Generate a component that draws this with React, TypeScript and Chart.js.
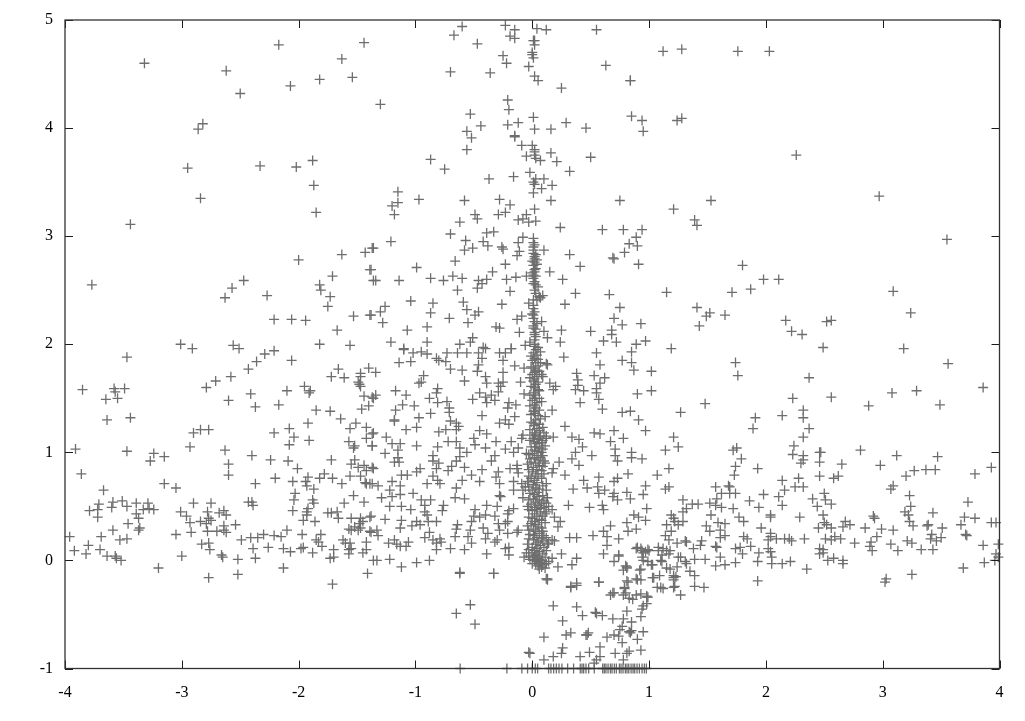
import React, { useEffect, useRef } from "react";
import { Chart, registerables } from "chart.js";

Chart.register(...registerables);

const xTicks = [-4, -3, -2, -1, 0, 1, 2, 3, 4];
const yTicks = [-1, 0, 1, 2, 3, 4, 5];

const farLeftHigh = [[-3.32,4.60],[-2.62,4.53],[-2.50,4.32],[-2.17,4.77],[-2.07,4.39],[-1.82,4.45],[-1.63,4.64],[-1.54,4.47],[-1.44,4.79],[-2.82,4.04],[-2.86,3.99],[-2.95,3.63],[-2.33,3.65],[-2.02,3.64],[-1.88,3.70],[-1.87,3.47],[-2.84,3.35],[-1.85,3.22],[-3.44,3.11],[-2.0,2.78],[-1.63,2.83],[-1.43,2.85],[-1.37,2.89],[-1.39,2.69],[-1.36,2.59],[-3.77,2.55],[-2.47,2.59],[-2.57,2.52],[-2.63,2.43],[-2.27,2.45],[-1.71,2.63],[-1.82,2.55],[-1.81,2.50],[-1.73,2.44],[-1.75,2.35],[-1.53,2.26],[-1.39,2.27],[-2.21,2.23],[-2.06,2.23],[-1.94,2.22],[-1.67,2.13],[-3.01,2.0],[-2.91,1.96],[-2.56,1.99],[-2.51,1.96],[-1.82,2.0],[-1.56,1.99]];

const farLeftLow = [[-3.47,1.88],[-3.85,1.58],[-3.58,1.59],[-3.57,1.56],[-3.49,1.59],[-3.65,1.49],[-3.55,1.50],[-3.64,1.30],[-3.44,1.32],[-3.91,1.03],[-3.47,1.01],[-3.24,0.99],[-3.27,0.92],[-3.15,0.96],[-3.86,0.80],[-3.67,0.65],[-3.15,0.71],[-3.05,0.67],[-3.71,0.52],[-3.79,0.46],[-3.72,0.47],[-3.72,0.40],[-3.59,0.54],[-3.60,0.49],[-3.51,0.55],[-3.47,0.50],[-3.39,0.53],[-3.29,0.53],[-3.33,0.47],[-3.39,0.43],[-3.24,0.47],[-3.28,0.48],[-3.37,0.39],[-3.46,0.34],[-3.59,0.28],[-3.36,0.30],[-3.37,0.28],[-3.96,0.22],[-3.69,0.22],[-3.53,0.19],[-3.47,0.20],[-3.80,0.14],[-3.92,0.09],[-3.82,0.06],[-3.70,0.10],[-3.64,0.04],[-3.57,0.04],[-3.56,0.02],[-3.52,0.0],[-3.20,-0.07]];

const leftMiddle = [[-2.29,1.91],[-2.21,1.94],[-2.36,1.84],[-2.43,1.77],[-2.06,1.85],[-2.58,1.70],[-2.71,1.66],[-2.79,1.60],[-2.41,1.54],[-2.60,1.48],[-2.37,1.42],[-2.10,1.57],[-2.17,1.44],[-1.95,1.61],[-1.90,1.57],[-1.91,1.55],[-1.66,1.77],[-1.72,1.70],[-1.61,1.69],[-1.47,1.73],[-1.47,1.70],[-1.40,1.78],[-1.49,1.65],[-1.48,1.63],[-1.47,1.61],[-1.44,1.52],[-1.37,1.51],[-1.40,1.43],[-1.46,1.40],[-1.85,1.39],[-1.73,1.38],[-1.64,1.31],[-1.92,1.27],[-1.51,1.27],[-1.56,1.22],[-1.42,1.23],[-1.37,1.17],[-1.42,1.13],[-1.57,1.10],[-1.52,1.06],[-1.53,1.04],[-1.37,1.06],[-2.90,1.18],[-2.84,1.21],[-2.77,1.21],[-2.93,1.05],[-2.63,1.02],[-2.21,1.18],[-2.08,1.22],[-2.04,1.14],[-2.08,1.07],[-1.91,1.11],[-2.40,0.97],[-2.24,0.93],[-2.09,0.92],[-2.01,0.85],[-1.72,0.93],[-1.52,0.93],[-1.55,0.89],[-1.49,0.86],[-1.44,0.88],[-1.37,0.86],[-1.42,0.83],[-2.60,0.89],[-2.60,0.79],[-2.20,0.76],[-2.37,0.71],[-2.05,0.73],[-1.92,0.77],[-1.94,0.73],[-1.93,0.69],[-1.87,0.66],[-1.78,0.80],[-1.82,0.76],[-1.71,0.76],[-1.63,0.71],[-1.56,0.78],[-1.47,0.78],[-1.43,0.72],[-1.42,0.71],[-1.37,0.71]];

const leftBand = [[-2.03,0.62],[-2.04,0.56],[-1.88,0.56],[-1.87,0.53],[-2.05,0.46],[-1.92,0.48],[-1.93,0.45],[-1.93,0.42],[-1.96,0.37],[-1.86,0.36],[-1.53,0.60],[-1.61,0.53],[-1.44,0.54],[-1.75,0.44],[-1.72,0.44],[-1.67,0.45],[-1.66,0.39],[-1.55,0.39],[-1.47,0.39],[-1.39,0.40],[-1.45,0.36],[-1.48,0.34],[-1.52,0.31],[-1.57,0.29],[-1.55,0.28],[-1.47,0.30],[-1.49,0.28],[-1.38,0.26],[-2.90,0.53],[-2.75,0.53],[-3.01,0.45],[-2.96,0.41],[-2.78,0.45],[-2.77,0.39],[-2.75,0.37],[-2.84,0.36],[-2.79,0.34],[-2.64,0.46],[-2.68,0.44],[-2.62,0.42],[-2.93,0.35],[-2.64,0.32],[-2.54,0.33],[-2.78,0.27],[-2.70,0.27],[-2.64,0.28],[-2.62,0.26],[-2.92,0.26],[-3.05,0.24],[-2.83,0.15],[-2.77,0.16],[-2.76,0.10],[-3.0,0.04],[-2.66,0.05],[-2.65,0.03],[-2.52,0.01],[-2.37,0.02],[-2.77,-0.16],[-2.52,-0.13],[-2.13,-0.07],[-1.71,-0.22],[-1.41,-0.12],[-2.43,0.54],[-2.40,0.54],[-2.39,0.51],[-2.49,0.19],[-2.41,0.21],[-2.35,0.21],[-2.30,0.24],[-2.39,0.11],[-2.26,0.12],[-2.21,0.23],[-2.15,0.22],[-2.10,0.28],[-1.97,0.24],[-2.13,0.11],[-2.07,0.08],[-1.98,0.11],[-1.96,0.12],[-1.88,0.07],[-1.81,0.24],[-1.85,0.19],[-1.83,0.17],[-1.80,0.13],[-1.70,0.10],[-1.73,0.02],[-1.70,0.03],[-1.62,0.19],[-1.60,0.16],[-1.56,0.16],[-1.55,0.11],[-1.57,0.10],[-1.57,0.06],[-1.42,0.17],[-1.42,0.10],[-1.45,0.07],[-1.36,0.0]];

const centreHigh = [[-0.60,4.94],[-0.67,4.86],[-0.47,4.78],[-0.23,4.95],[-0.15,4.91],[-0.19,4.85],[-0.15,4.83],[0.04,4.92],[0.12,4.91],[0.01,4.81],[0.02,4.81],[0.02,4.77],[0.0,4.70],[0.0,4.68],[0.01,4.65],[-0.25,4.67],[-0.22,4.60],[-0.03,4.57],[-0.70,4.52],[-0.36,4.51],[0.02,4.48],[0.05,4.44],[0.55,4.91],[1.12,4.71],[0.63,4.58],[0.84,4.44],[0.84,4.44],[0.25,4.37],[-1.30,4.22],[-0.21,4.26],[-0.20,4.17],[-0.53,4.13],[-0.44,4.02],[-0.56,3.97],[-0.52,3.91],[-0.21,4.03],[-0.12,4.05],[0.01,4.10],[0.02,3.99],[0.16,3.99],[0.29,4.05],[0.46,4.0],[0.85,4.11],[0.94,4.07],[0.95,3.97],[-0.15,3.93],[-0.15,3.92],[-0.09,3.84],[-0.56,3.80],[0.0,3.84],[0.02,3.80],[0.02,3.78],[0.02,3.75],[0.03,3.72],[-0.05,3.74],[0.07,3.70],[0.16,3.77],[0.21,3.69],[0.50,3.73],[-0.87,3.71],[-0.75,3.62],[0.32,3.60],[-0.37,3.53],[-0.16,3.55],[-0.02,3.59],[0.03,3.53],[0.01,3.50],[0.02,3.48],[0.10,3.53],[0.17,3.47],[0.08,3.44],[0.01,3.40]];

const centreUpper = [[-1.15,3.41],[-1.15,3.31],[-1.20,3.28],[-1.18,3.20],[-0.97,3.34],[-0.58,3.33],[-0.28,3.34],[-0.19,3.29],[0.16,3.33],[0.75,3.33],[0.02,3.25],[-0.49,3.20],[-0.47,3.16],[-0.29,3.20],[-0.23,3.22],[-0.05,3.20],[-0.12,3.15],[-0.08,3.16],[-0.03,3.13],[0.03,3.14],[-0.62,3.13],[0.24,3.08],[0.60,3.06],[0.78,3.06],[0.94,3.06],[0.89,2.99],[0.83,2.93],[0.90,2.91],[0.79,2.85],[0.69,2.80],[0.70,2.79],[0.91,2.74],[0.32,2.83],[0.41,2.72],[-0.70,3.02],[-0.39,3.03],[-0.33,3.04],[-1.21,2.95],[-1.36,2.89],[-0.57,2.96],[-0.58,2.87],[-0.51,2.89],[-0.42,2.95],[-0.38,2.91],[-0.26,2.90],[-0.25,2.88],[-0.08,2.99],[-0.12,2.94],[-0.11,2.86],[-0.13,2.82],[0.10,2.87],[-0.66,2.77],[-0.23,2.74],[0.01,2.98],[0.01,2.94],[0.01,2.90],[0.01,2.87],[0.02,2.79],[0.02,2.76],[0.01,2.73],[0.02,2.69],[0.03,2.70],[0.0,2.66],[0.01,2.61],[0.02,2.58],[0.03,2.55],[0.05,2.53],[0.04,2.78],[-0.99,2.71],[-1.38,2.69],[-1.34,2.59],[-1.14,2.59],[-0.87,2.61],[-0.76,2.59],[-0.68,2.63],[-0.60,2.61],[-0.46,2.59],[-0.39,2.60],[-0.34,2.67],[-0.43,2.56],[-0.47,2.52],[-0.64,2.50],[-0.22,2.60],[-0.14,2.62],[-0.05,2.63],[0.15,2.67],[0.26,2.60],[-0.19,2.49],[0.09,2.45],[0.07,2.43],[0.37,2.47],[0.66,2.46],[1.15,2.48],[0.04,2.41],[0.01,2.41],[-0.03,2.38],[0.01,2.36],[0.28,2.37],[0.75,2.34],[-0.26,2.37],[-1.04,2.40],[-0.85,2.38],[-0.59,2.39],[-1.26,2.35],[-1.30,2.30],[-1.38,2.27],[-0.87,2.29],[-0.56,2.32],[-0.46,2.30],[-0.49,2.27],[-0.71,2.24],[-0.55,2.20],[-1.28,2.20],[-0.09,2.26],[-0.13,2.23],[-0.90,2.16],[-1.07,2.13],[-0.31,2.16],[-0.28,2.15],[-0.11,2.11],[0.01,2.27],[0.01,2.24],[0.02,2.21],[0.08,2.21],[0.01,2.17],[0.02,2.11],[0.02,2.09],[0.10,2.12],[0.13,2.06],[0.25,2.13],[0.50,2.12],[0.70,2.24],[0.77,2.18],[0.93,2.19],[0.68,2.13],[0.68,2.09],[0.61,2.03],[0.72,2.02],[0.97,2.03],[0.89,2.0],[-0.51,2.06],[-0.53,2.02],[-0.62,2.0],[-1.21,2.02],[-0.90,2.02],[0.24,2.02],[-1.10,1.96],[-0.42,1.97],[-0.18,1.96],[-0.06,1.99],[0.02,2.0]];

const rightHigh = [[1.28,4.73],[1.76,4.71],[2.03,4.71],[1.24,4.07],[1.28,4.09],[2.26,3.75],[1.53,3.33],[1.21,3.25],[2.97,3.37],[1.39,3.15],[1.41,3.10],[3.55,2.97],[1.80,2.73],[1.98,2.60],[2.11,2.60],[1.87,2.51],[1.71,2.48],[1.41,2.34],[1.52,2.29],[1.49,2.26],[1.65,2.27],[1.43,2.17],[2.17,2.22],[2.22,2.12],[2.31,2.09],[2.52,2.21],[2.56,2.22],[3.09,2.49],[3.24,2.29],[2.49,1.97],[3.18,1.96],[1.19,1.96]];

const rightLow = [[3.56,1.82],[3.86,1.60],[1.74,1.83],[1.76,1.71],[2.37,1.69],[3.29,1.57],[3.08,1.55],[2.56,1.51],[2.23,1.50],[2.88,1.43],[3.49,1.44],[1.48,1.45],[1.27,1.37],[2.32,1.39],[2.32,1.32],[2.14,1.34],[1.91,1.32],[1.89,1.22],[2.37,1.22],[2.32,1.14],[2.24,1.06],[1.21,1.14],[1.25,1.05],[2.81,1.02],[3.12,0.97],[3.47,0.96],[1.72,1.02],[1.75,1.04],[1.79,0.94],[2.23,0.98],[2.32,0.97],[2.32,0.93],[2.30,0.90],[2.46,1.0],[2.47,1.0],[2.46,0.91],[2.65,0.89],[2.98,0.88],[1.93,0.85],[1.74,0.87],[1.73,0.79],[3.93,0.86],[3.79,0.80],[3.37,0.84],[3.45,0.84],[3.27,0.83],[3.20,0.78],[2.46,0.78],[2.58,0.76],[2.62,0.78],[2.28,0.76],[2.14,0.74],[1.57,0.68],[1.68,0.69],[1.69,0.68],[2.25,0.68],[2.32,0.68],[3.09,0.69],[3.07,0.66],[2.16,0.65],[2.11,0.59],[1.62,0.62],[1.69,0.62],[1.74,0.62],[1.98,0.61],[2.50,0.62],[3.23,0.60],[2.40,0.57],[2.51,0.56],[2.56,0.52],[3.73,0.54]];

const rightBand = [[1.29,0.56],[1.58,0.57],[1.86,0.55],[2.14,0.51],[1.94,0.49],[1.72,0.48],[2.44,0.50],[3.24,0.50],[1.37,0.52],[1.42,0.52],[1.52,0.53],[1.57,0.51],[1.62,0.49],[1.32,0.48],[1.29,0.45],[1.19,0.42],[1.53,0.42],[2.04,0.40],[2.04,0.42],[2.49,0.42],[3.19,0.45],[3.43,0.44],[3.22,0.42],[2.29,0.40],[3.79,0.39],[3.70,0.40],[2.92,0.41],[2.93,0.39],[1.77,0.40],[1.81,0.36],[1.21,0.39],[1.22,0.36],[1.29,0.36],[1.59,0.35],[1.65,0.34],[1.49,0.32],[1.96,0.30],[2.68,0.36],[2.72,0.33],[2.66,0.31],[2.50,0.35],[2.52,0.33],[2.56,0.30],[2.45,0.30],[3.26,0.32],[3.23,0.36],[3.39,0.33],[3.38,0.32],[2.85,0.30],[2.99,0.29],[3.09,0.28],[3.51,0.30],[3.67,0.33],[3.93,0.35],[3.97,0.35],[1.25,0.33],[1.19,0.27],[1.52,0.27],[1.61,0.28],[3.72,0.23],[3.71,0.24],[3.42,0.24],[2.95,0.22],[1.61,0.21],[1.65,0.23],[1.81,0.22],[1.84,0.20],[2.04,0.25],[2.04,0.22],[2.02,0.19],[2.09,0.20],[2.16,0.20],[2.20,0.20],[2.22,0.18],[2.33,0.20],[2.51,0.20],[2.56,0.19],[2.59,0.22],[2.64,0.20],[2.76,0.16],[2.90,0.17],[2.89,0.13],[2.91,0.09],[3.07,0.15],[3.13,0.09],[3.21,0.18],[3.25,0.16],[3.33,0.10],[3.43,0.10],[3.41,0.20],[3.46,0.18],[3.50,0.21],[3.86,0.14],[3.99,0.15],[1.24,0.16],[1.31,0.18],[1.32,0.17],[1.45,0.18],[1.44,0.14],[1.38,0.11],[1.57,0.13],[1.58,0.12],[1.74,0.11],[1.78,0.12],[1.87,0.13],[1.80,0.06],[1.94,0.07],[2.02,0.11],[2.04,0.08],[2.46,0.11],[2.49,0.10],[2.49,0.07],[2.46,0.06],[2.58,0.02],[2.66,0.0],[2.66,-0.03],[2.53,0.0],[1.27,0.03],[1.39,0.01],[1.48,0.01],[1.61,0.03],[1.57,-0.05],[1.65,-0.04],[1.74,-0.02],[1.93,-0.01],[2.05,0.03],[2.05,-0.03],[2.14,-0.03],[2.21,-0.01],[2.35,-0.08],[1.93,-0.19],[3.03,-0.17],[3.02,-0.2],[3.25,-0.13],[3.69,-0.07],[3.87,-0.02],[3.96,0.0],[3.97,0.06],[3.99,0.03],[1.25,0.03],[1.32,-0.03],[1.24,-0.06],[1.35,-0.10],[1.39,-0.14],[1.21,-0.14],[1.21,-0.16],[1.21,-0.18],[1.22,-0.24],[1.39,-0.24],[1.47,-0.25],[1.27,-0.32],[1.31,-0.01]];

const denseLeft = [[-1.10,1.95],[-1.02,1.92],[-0.95,1.93],[-0.90,1.91],[-1.14,1.83],[-1.04,1.84],[-0.82,1.87],[-0.80,1.85],[-0.73,1.92],[-0.64,1.92],[-0.56,1.92],[-0.74,1.84],[-0.70,1.77],[-0.60,1.76],[-0.46,1.92],[-0.40,1.96],[-0.43,1.87],[-0.46,1.81],[-0.47,1.75],[-0.28,1.92],[-0.23,1.92],[-0.25,1.85],[-0.25,1.74],[-0.15,1.80],[-0.07,1.78],[-0.18,1.96],[-1.34,1.74],[-0.93,1.71],[-0.95,1.65],[-0.97,1.64],[-0.58,1.66],[-0.40,1.70],[-0.39,1.64],[-0.29,1.64],[-0.25,1.65],[-0.27,1.61],[-0.10,1.65],[-0.29,1.56],[-0.45,1.55],[-0.40,1.51],[-0.35,1.53],[-0.51,1.49],[-0.32,1.48],[-0.39,1.46],[-1.17,1.57],[-1.08,1.53],[-1.34,1.53],[-1.36,1.50],[-0.81,1.59],[-0.82,1.55],[-0.88,1.50],[-0.81,1.46],[-0.73,1.47],[-1.11,1.44],[-1.01,1.43],[-0.71,1.41],[-1.17,1.39],[-0.87,1.36],[-0.71,1.37],[-0.43,1.34],[-0.20,1.46],[-0.21,1.41],[-0.14,1.44],[-0.07,1.54],[-0.15,1.33],[-1.18,1.30],[-0.97,1.32],[-1.18,1.29],[-0.70,1.29],[-1.08,1.21],[-0.99,1.23],[-0.65,1.27],[-0.63,1.24],[-0.80,1.19],[-0.74,1.21],[-0.65,1.21],[-0.23,1.30],[-0.28,1.27],[-0.20,1.26],[-0.45,1.20],[-0.39,1.17],[-1.36,1.18],[-1.25,1.14],[-0.50,1.13],[-0.31,1.10],[-0.08,1.16],[-0.09,1.13],[-0.72,1.10],[-0.65,1.10],[-1.20,1.08],[-1.13,1.08],[-0.99,1.06],[-1.37,1.06],[-0.81,1.05],[-0.49,1.07],[-0.40,1.04],[-0.18,1.10],[-0.62,1.04],[-0.23,1.03],[-0.12,1.04],[-1.15,1.02],[-1.26,0.99],[-0.85,0.97],[-0.56,1.0],[-0.62,0.96],[-0.32,0.97],[-0.16,1.0],[-0.05,0.99]];

const denseLeftLow = [[-1.15,0.95],[-1.18,0.91],[-1.14,0.91],[-0.85,0.92],[-0.80,0.90],[-0.65,0.92],[-1.36,0.85],[-0.35,0.92],[-0.96,0.85],[-0.99,0.82],[-0.82,0.85],[-0.72,0.83],[-0.69,0.87],[-0.58,0.86],[-0.43,0.84],[-0.13,0.88],[-0.13,0.85],[-0.19,0.85],[-0.29,0.82],[-1.12,0.79],[-1.07,0.79],[-0.85,0.78],[-0.52,0.79],[-0.31,0.77],[-0.12,0.81],[-1.39,0.71],[-1.32,0.69],[-1.20,0.73],[-1.13,0.69],[-0.90,0.71],[-0.81,0.74],[-0.79,0.71],[-0.60,0.74],[-0.45,0.73],[-0.28,0.71],[-0.16,0.73],[-0.09,0.71],[-1.22,0.65],[-1.13,0.61],[-0.65,0.67],[-0.16,0.65],[-0.08,0.65],[-1.02,0.62],[-1.29,0.58],[-1.20,0.59],[-0.95,0.56],[-0.87,0.56],[-0.66,0.58],[-0.58,0.57],[-0.28,0.60],[-0.27,0.59],[-0.08,0.58],[-0.39,0.51],[-0.30,0.50],[-1.22,0.50],[-1.12,0.50],[-0.92,0.51],[-0.92,0.45],[-0.76,0.51],[-0.77,0.46],[-1.04,0.47],[-1.26,0.38],[-0.49,0.47],[-0.16,0.48],[-0.20,0.46],[-0.21,0.43],[-1.38,0.41],[-1.12,0.37],[-0.90,0.42],[-0.50,0.41],[-0.45,0.40],[-0.40,0.42],[-0.32,0.41],[-0.99,0.36],[-0.89,0.36],[-0.82,0.36],[-1.13,0.30],[-1.03,0.32],[-0.96,0.33],[-0.64,0.33],[-0.52,0.36],[-0.29,0.34],[-0.23,0.34],[-0.21,0.36],[-1.33,0.28],[-1.39,0.27],[-0.65,0.29],[-0.53,0.28],[-0.42,0.30],[-0.28,0.28],[-0.12,0.28],[-0.88,0.26],[-1.32,0.23],[-0.38,0.25],[-0.21,0.25],[-0.13,0.26],[-0.92,0.21],[-0.85,0.19],[-0.79,0.20],[-0.66,0.22],[-0.55,0.22],[-0.40,0.20],[-0.30,0.19],[-1.18,0.19],[-1.23,0.16],[-1.16,0.15],[-1.13,0.13],[-1.06,0.17],[-0.82,0.16],[-0.78,0.17],[-0.70,0.11],[-0.52,0.16],[-0.32,0.17],[-1.08,0.13],[-0.82,0.10],[-0.58,0.10],[-0.23,0.11],[-0.20,0.12],[-0.20,0.05],[-0.39,0.06],[-1.33,0.0],[-1.22,0.01],[-1.12,-0.06],[-0.99,-0.02],[-0.88,0.0],[-0.62,-0.12],[-0.33,-0.12],[-0.07,0.03]];

const denseRight = [[0.55,1.92],[0.58,1.81],[0.77,1.85],[0.85,1.93],[0.85,1.83],[0.87,1.76],[1.02,1.75],[0.27,1.88],[0.12,1.82],[0.13,1.81],[0.38,1.73],[0.39,1.67],[0.39,1.62],[0.53,1.71],[0.62,1.69],[0.58,1.64],[0.55,1.59],[0.37,1.58],[0.44,1.57],[0.55,1.55],[0.57,1.49],[0.41,1.46],[0.60,1.40],[1.02,1.57],[0.90,1.54],[0.77,1.37],[0.84,1.38],[0.91,1.30],[0.97,1.20],[0.70,1.20],[0.53,1.18],[0.58,1.17],[0.78,1.13],[0.67,1.10],[0.34,1.14],[0.40,1.12],[0.43,1.05],[0.28,1.24],[0.37,1.0],[0.34,0.94],[0.51,0.97],[0.40,0.88],[0.23,0.91],[0.71,1.03],[0.71,0.97],[0.73,0.92],[0.85,1.0],[0.85,0.95],[0.94,0.94],[1.14,1.02],[1.17,0.85],[1.07,0.79],[0.82,0.80],[0.73,0.76],[0.70,0.73],[0.57,0.77],[0.44,0.74],[0.28,0.79],[0.35,0.66],[0.47,0.67],[0.56,0.68],[0.57,0.62],[0.62,0.65],[0.70,0.62],[0.69,0.59],[0.73,0.56],[0.81,0.63],[0.84,0.57],[0.95,0.61],[0.97,0.69],[1.14,0.66],[1.17,0.68],[0.31,0.51],[0.49,0.49],[0.60,0.51],[0.61,0.47],[0.98,0.48],[0.87,0.42],[0.91,0.40],[0.97,0.37],[0.81,0.35],[0.67,0.32],[1.15,0.33],[0.61,0.27],[0.82,0.27],[0.89,0.29],[0.52,0.23],[0.64,0.22],[0.74,0.20],[0.32,0.21],[0.38,0.21],[1.14,0.23],[1.17,0.19],[0.64,0.14],[0.89,0.11],[0.93,0.11],[0.97,0.08],[0.94,0.03],[0.99,0.10],[1.08,0.12],[1.12,0.11],[1.11,0.05],[1.10,0.0],[0.61,0.06],[0.74,0.05],[0.81,-0.06],[0.78,-0.09],[0.92,-0.09],[1.02,-0.04],[1.17,0.06],[1.15,-0.07],[0.95,0.0],[0.99,-0.01],[0.89,-0.17],[0.82,-0.2],[1.04,-0.16],[1.09,-0.14],[1.12,-0.26],[0.79,-0.26],[0.69,-0.30],[0.78,-0.32],[0.89,-0.32],[0.98,-0.34],[0.38,-0.23],[0.33,-0.25],[0.57,-0.20],[0.12,-0.17],[0.38,0.02],[0.25,0.06],[0.34,-0.04],[0.22,-0.06],[0.19,0.18],[0.17,0.19],[0.14,0.16],[0.24,0.36],[0.22,0.31],[0.19,0.40],[0.12,0.45],[0.17,0.47],[0.17,1.39],[0.20,1.61],[0.18,1.58],[0.09,1.70],[0.15,1.64],[0.11,1.33],[0.18,1.14],[0.12,1.13],[0.18,0.85],[0.17,0.81],[0.11,0.90],[0.12,0.65],[0.12,0.71],[-0.06,0.68],[0.17,0.02],[0.14,-0.01],[0.08,-0.06],[0.11,-0.07]];

const spine = [[0.02,1.98],[0.03,1.95],[0.01,1.92],[0.04,1.90],[0.02,1.87],[0.0,1.85],[0.03,1.83],[0.05,1.80],[0.01,1.78],[0.03,1.76],[0.02,1.74],[0.0,1.72],[0.04,1.70],[0.02,1.68],[0.01,1.66],[0.03,1.63],[0.02,1.60],[0.05,1.58],[0.01,1.55],[0.03,1.53],[0.02,1.50],[0.0,1.48],[0.04,1.46],[0.02,1.44],[0.03,1.41],[0.01,1.38],[0.02,1.36],[0.05,1.34],[0.03,1.30],[0.01,1.27],[0.02,1.25],[0.04,1.22],[0.06,1.20],[0.02,1.18],[0.03,1.16],[0.07,1.15],[0.01,1.13],[0.05,1.12],[0.09,1.11],[0.02,1.10],[0.04,1.08],[0.03,1.05],[0.06,1.04],[0.02,1.02],[0.08,1.0],[0.0,0.99],[0.04,0.97],[0.02,0.95],[0.05,0.93],[-0.01,0.91],[0.03,0.90],[0.06,0.88],[0.01,0.86],[0.04,0.84],[0.0,0.82],[0.03,0.80],[0.05,0.78],[-0.01,0.76],[0.02,0.74],[0.04,0.72],[0.01,0.70],[0.03,0.67],[0.0,0.65],[0.05,0.63],[0.02,0.61],[0.04,0.59],[0.01,0.57],[0.06,0.56],[0.03,0.54],[0.08,0.53],[-0.01,0.52],[0.05,0.51],[0.02,0.49],[0.1,0.49],[0.04,0.47],[0.0,0.46],[0.07,0.45],[0.02,0.43],[0.04,0.41],[0.0,0.39],[0.06,0.38],[0.02,0.36],[-0.01,0.34],[0.03,0.33],[0.05,0.31],[0.01,0.29],[0.03,0.27],[0.06,0.25],[0.02,0.23],[0.04,0.21],[0.08,0.2],[0.01,0.19],[0.05,0.17],[0.03,0.15],[0.07,0.14],[0.0,0.12],[0.04,0.11],[0.02,0.09],[0.06,0.08],[0.0,0.07],[0.03,0.05],[0.05,0.04],[0.01,0.03],[0.04,0.02],[0.06,0.01],[0.02,0.0],[0.04,-0.01],[0.07,-0.02],[0.03,-0.03],[0.05,-0.05],[0.09,-0.04],[0.01,2.84],[0.02,2.81],[0.01,2.64],[0.02,2.50],[0.01,2.33],[0.02,2.30],[0.01,2.15],[0.03,2.07],[0.02,2.04]];

const spineHalo = [[0.02,2.92],[0.03,2.83],[0.0,2.77],[0.04,2.74],[0.02,2.67],[0.03,2.63],[0.01,2.56],[0.03,2.47],[0.06,2.44],[0.0,2.28],[0.04,2.19],[0.03,2.14],[-0.02,2.02],[0.05,1.97],[0.07,1.93],[-0.01,1.89],[0.05,1.86],[0.07,1.83],[-0.01,1.79],[0.06,1.75],[0.08,1.72],[-0.02,1.69],[0.05,1.65],[-0.01,1.61],[0.06,1.57],[-0.02,1.53],[0.06,1.50],[0.08,1.47],[-0.02,1.43],[0.06,1.39],[-0.01,1.35],[0.07,1.31],[-0.01,1.28],[0.06,1.26],[0.09,1.23],[-0.02,1.21],[0.10,1.18],[0.0,1.16],[0.12,1.15],[0.06,1.13],[-0.02,1.11],[0.08,1.09],[0.11,1.06],[-0.01,1.05],[0.09,1.03],[0.05,1.01],[-0.03,0.98],[0.09,0.97],[0.07,0.95],[-0.02,0.94],[0.10,0.92],[-0.04,0.89],[0.09,0.87],[-0.03,0.84],[0.08,0.83],[0.10,0.80],[-0.03,0.78],[0.08,0.76],[-0.04,0.73],[0.09,0.69],[-0.03,0.68],[0.06,0.66],[-0.02,0.62],[0.09,0.60],[0.13,0.58],[-0.03,0.56],[0.10,0.55],[0.12,0.53],[-0.04,0.50],[0.14,0.50],[0.07,0.48],[-0.03,0.47],[0.11,0.43],[0.09,0.41],[-0.03,0.40],[0.08,0.37],[0.11,0.35],[-0.04,0.32],[0.08,0.30],[-0.03,0.28],[0.09,0.27],[-0.02,0.24],[0.10,0.23],[0.12,0.21],[-0.03,0.20],[0.09,0.18],[0.13,0.15],[-0.04,0.15],[0.10,0.12],[-0.03,0.10],[0.12,0.09],[-0.05,0.07],[0.09,0.06],[-0.03,0.04],[0.11,0.03],[-0.02,0.01],[0.08,0.0],[0.0,-0.03],[0.12,-0.03],[0.06,-0.08]];

const lowerFan = [[-0.62,-0.11],[-0.33,-0.12],[-0.53,-0.41],[-0.65,-0.49],[-0.49,-0.59],[0.13,-0.17],[0.13,-0.18],[0.57,-0.20],[0.38,-0.21],[0.33,-0.24],[0.18,-0.42],[0.38,-0.43],[0.54,-0.48],[0.55,-0.49],[0.60,-0.51],[0.43,-0.51],[0.26,-0.56],[0.69,-0.54],[0.78,-0.54],[0.85,-0.57],[0.93,-0.52],[0.94,-0.45],[0.95,-0.42],[0.98,-0.40],[0.99,-0.34],[0.81,-0.47],[0.77,-0.61],[0.75,-0.64],[0.83,-0.66],[0.84,-0.67],[0.85,-0.65],[0.95,-0.66],[0.90,-0.73],[0.70,-0.69],[0.64,-0.71],[0.74,-0.70],[0.77,-0.76],[0.33,-0.67],[0.29,-0.69],[0.48,-0.67],[0.47,-0.69],[0.46,-0.69],[0.10,-0.71],[0.58,-0.80],[0.49,-0.85],[0.55,-0.92],[0.53,-0.95],[0.26,-0.81],[0.25,-0.86],[0.18,-0.89],[0.10,-0.92],[-0.03,-0.85],[-0.02,-0.86],[0.41,-0.89],[0.71,-0.86],[0.83,-0.84],[0.81,-0.86],[0.93,-0.83],[0.78,-0.92],[0.58,-0.89],[0.67,-0.32],[0.70,-0.30],[0.80,-0.30],[0.83,-0.35],[0.93,-0.31],[0.98,-0.33],[0.86,-0.36],[0.79,-0.25],[0.81,-0.19],[0.93,-0.18],[0.90,-0.18],[0.70,-0.01],[0.74,0.04],[0.80,-0.05],[0.81,-0.07],[0.93,-0.08],[0.90,0.12],[0.94,0.09],[1.0,0.09],[0.95,0.07],[1.03,-0.04],[1.03,-0.16],[1.08,0.09],[1.15,0.09],[1.18,0.09],[1.11,-0.01],[1.18,-0.08],[1.23,-0.15],[1.10,-0.25],[1.21,-0.25],[1.07,-0.25]];

const floorXs = [-0.617,-0.217,-0.089,-0.04,0.0,0.026,0.046,0.14,0.16,0.183,0.206,0.229,0.254,0.303,0.354,0.411,0.426,0.44,0.46,0.483,0.531,0.603,0.617,0.631,0.649,0.669,0.683,0.703,0.72,0.746,0.76,0.777,0.797,0.811,0.826,0.846,0.863,0.877,0.897,0.917,0.94,0.96,0.977];
const floorY = -1;

const regions = [farLeftHigh, farLeftLow, leftMiddle, leftBand, centreHigh, centreUpper, rightHigh, rightLow, rightBand, denseLeft, denseLeftLow, denseRight, spine, spineHalo, lowerFan];

const framePlugin = {
  id: "gnuplotFrame",
  afterDatasetsDraw(chart: any) {
    const { ctx, chartArea: a, scales } = chart;
    ctx.save();
    ctx.strokeStyle = "#1c1c1c";
    ctx.lineWidth = 1;
    ctx.beginPath();
    for (const v of xTicks) {
      const px = Math.round(scales.x.getPixelForValue(v)) + 0.5;
      ctx.moveTo(px, a.bottom);
      ctx.lineTo(px, a.bottom - 8);
      ctx.moveTo(px, a.top);
      ctx.lineTo(px, a.top + 8);
    }
    for (const v of yTicks) {
      const py = Math.round(scales.y.getPixelForValue(v)) + 0.5;
      ctx.moveTo(a.left, py);
      ctx.lineTo(a.left + 8, py);
      ctx.moveTo(a.right, py);
      ctx.lineTo(a.right - 8, py);
    }
    ctx.stroke();
    ctx.strokeStyle = "#333333";
    ctx.lineWidth = 1.3;
    ctx.strokeRect(a.left, a.top, a.right - a.left, a.bottom - a.top);
    ctx.restore();
  },
};

export default function App() {
  const ref = useRef<HTMLCanvasElement>(null);
  useEffect(() => {
    const font = { family: "'Liberation Serif', serif", size: 16 };
    const points = regions.flat().map(([x, y]) => ({ x, y }));
    const floor = floorXs.map((x) => ({ x, y: floorY }));
    const chart = new Chart(ref.current!, {
      type: "scatter",
      data: {
        datasets: [
          {
            data: [...points, ...floor],
            pointStyle: "cross",
            pointRadius: 5,
            pointBorderWidth: 1.3,
            pointBorderColor: "#6e6e6e",
            pointBackgroundColor: "#6e6e6e",
            clip: false,
          } as any,
        ],
      },
      plugins: [framePlugin],
      options: {
        animation: false,
        responsive: false,
        events: [],
        layout: { padding: { top: 20, right: 25.5, left: 0, bottom: 0 } },
        plugins: { legend: { display: false }, tooltip: { enabled: false } },
        scales: {
          x: {
            type: "linear",
            min: -4,
            max: 4,
            afterFit: (s: any) => { s.height = 52.5; },
            afterBuildTicks: (s: any) => { s.ticks = xTicks.map((value) => ({ value })); },
            grid: { display: false },
            border: { display: false },
            ticks: { color: "#000", font, padding: 7, maxRotation: 0, autoSkip: false },
          },
          y: {
            type: "linear",
            min: -1,
            max: 5,
            afterFit: (s: any) => { s.width = 65; },
            afterBuildTicks: (s: any) => { s.ticks = yTicks.map((value) => ({ value })); },
            grid: { display: false },
            border: { display: false },
            ticks: { color: "#000", font, padding: 4, autoSkip: false },
          },
        },
      },
    } as any);
    return () => chart.destroy();
  }, []);
  return (
    <canvas
      ref={ref}
      width={1025}
      height={721}
      style={{ position: "absolute", left: 0, top: 0, display: "block" }}
    />
  );
}
